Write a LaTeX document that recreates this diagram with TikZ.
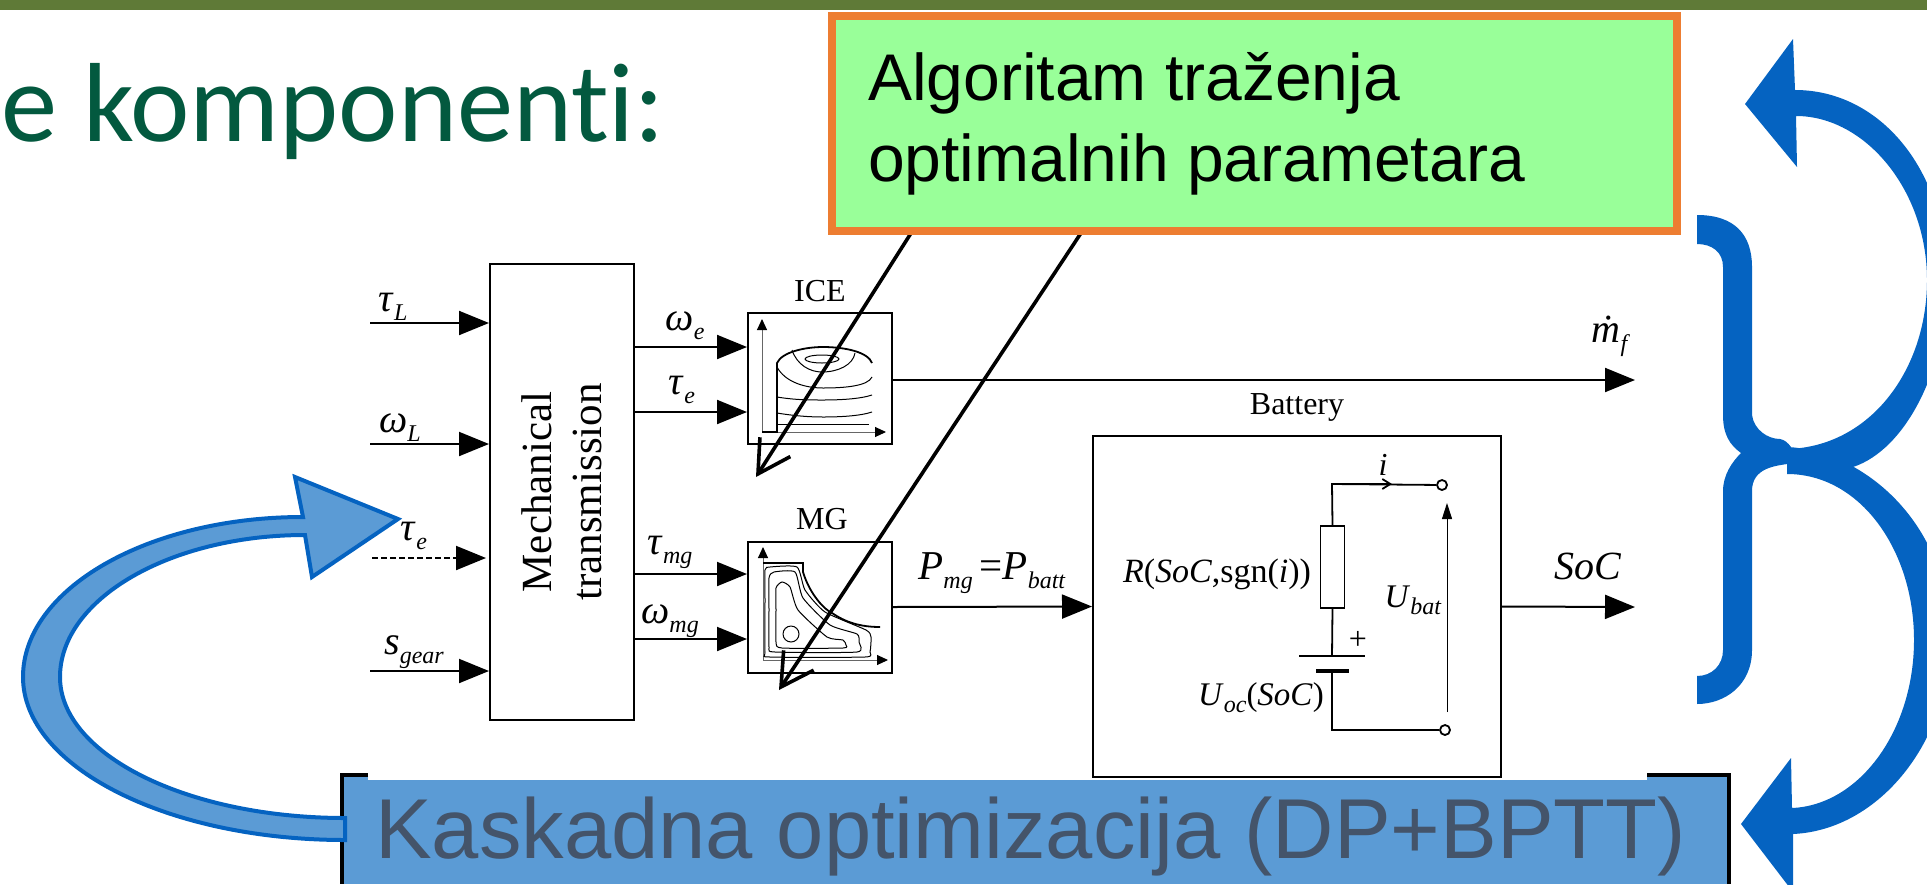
\documentclass[tikz,border=0pt]{standalone}
\usepackage{fontspec}
\setmainfont{Liberation Serif}
\newfontfamily\SansFont{Liberation Sans}
\newfontfamily\TitleFont{Carlito}
\usetikzlibrary{arrows.meta,calc}
\definecolor{BarClr}{HTML}{5F7A37}
\definecolor{TitleClr}{HTML}{03593F}
\definecolor{AlgoClr}{HTML}{99FF99}
\definecolor{AlgoEdgeClr}{HTML}{ED7D31}
\definecolor{CascadeClr}{HTML}{5B9BD5}
\definecolor{CascadeTxtClr}{HTML}{44546A}
\definecolor{FlowClr}{HTML}{0563C1}
\newcommand{\SymSub}[2]{\textit{#1}\raisebox{-.22em}{\fontsize{24}{24}\selectfont\textit{#2}}}
\tikzset{
  blockbox/.style={draw=black,line width=2pt,fill=white,inner sep=0pt},
  blocklbl/.style={font=\fontsize{32}{36}\selectfont,inner sep=0pt},
  symlbl/.style={font=\fontsize{40}{44}\selectfont,inner sep=0pt},
  sigline/.style={line width=2pt,-{Triangle[length=30pt,width=24pt]}},
  thinline/.style={line width=1pt},
  mapaxis/.style={line width=1pt,black!60,-{Triangle[length=11pt,width=10pt,black]}},
  mapline/.style={line width=1.8pt},
  wireline/.style={line width=1.8pt},
  pickline/.style={line width=3.6pt,-{Straight Barb[length=32pt,width=36pt,line width=3.6pt]}},
  terminal/.style={circle,draw=black,line width=1.8pt,fill=white,minimum size=10pt,inner sep=0pt},
}

\begin{document}
\begin{tikzpicture}[x=1pt,y=-1pt]
\useasboundingbox (0,0) rectangle (1927,884);
\clip (0,0) rectangle (1927,884);

\fill[BarClr] (0,0) rectangle (1927,10);
\node[anchor=base east,inner sep=0pt,text=TitleClr,font=\TitleFont\fontsize{112.5}{120}\selectfont] (title) at (665,141) {e komponent\kern0pt i:};

\node[blockbox,minimum width=144pt,minimum height=456pt] (mech) at (562,492) {};
\node[rotate=90,align=center,inner sep=0pt,font=\fontsize{43}{50}\selectfont] (mechlbl) at (562,492) {Mechanical\\transmission};
\node[blockbox,minimum width=144pt,minimum height=131pt] (ice) at (820,378) {};
\node[blockbox,minimum width=144pt,minimum height=131pt] (mg) at (820,607) {};
\node[blockbox,minimum width=408pt,minimum height=341pt] (batt) at (1297,606.5) {};

\node[blocklbl] (icelbl) at (820,291) {ICE};
\node[blocklbl] (mglbl) at (822,519) {MG};
\node[blocklbl] (battlbl) at (1297,407) {Battery};

\coordinate (tauLin) at (370,323);
\coordinate (omLin) at (370,444);
\coordinate (tauEin) at (372,558);
\coordinate (sgearin) at (370,671);
\coordinate (mfout) at (1635,380);
\coordinate (socout) at (1635,607);

\draw[sigline] (tauLin) -- (tauLin -| mech.west);
\draw[sigline] (omLin) -- (omLin -| mech.west);
\draw[sigline,dashed,dash pattern=on 6pt off 3pt] (tauEin) -- ($(tauEin -| mech.west)+(-3,0)$);
\draw[sigline] (sgearin) -- (sgearin -| mech.west);

\coordinate (omEout) at (mech.east |- 0,347);
\coordinate (tauEout) at (mech.east |- 0,412);
\coordinate (tauMout) at (mech.east |- 0,574);
\coordinate (omMout) at (mech.east |- 0,639);
\draw[sigline] (omEout) -- (omEout -| ice.west);
\draw[sigline] (tauEout) -- (tauEout -| ice.west);
\draw[sigline] (tauMout) -- (tauMout -| mg.west);
\draw[sigline] (omMout) -- (omMout -| mg.west);
\draw[sigline] (ice.east |- mfout) -- (mfout);
\draw[sigline] (mg.east) -- (batt.west);
\draw[sigline] (batt.east) -- (socout);

\node[symlbl] (tauLlbl) at (393,307) {\SymSub{τ}{L}};
\node[symlbl] (omLlbl) at (400,428) {\SymSub{ω}{L}};
\node[symlbl] (tauElbl) at (414,536) {\SymSub{τ}{e}};
\node[symlbl] (sgearlbl) at (414,652) {\SymSub{s}{gear}};
\node[symlbl] (omElbl) at (685,326) {\SymSub{ω}{e}};
\node[symlbl] (tauErlbl) at (682,390) {\SymSub{τ}{e}};
\node[symlbl] (tauMlbl) at (670,552) {\SymSub{τ}{mg}};
\node[symlbl] (omMlbl) at (670,621) {\SymSub{ω}{mg}};
\node[symlbl] (mflbl) at (1611,336) {\SymSub{ṁ}{f}};
\node[symlbl,font=\fontsize{41}{44}\selectfont] (powlbl) at (992,573) {\SymSub{P}{mg}\,=\SymSub{P}{batt}};
\node[symlbl] (soclbl) at (1588,566) {\textit{SoC}};

% ICE map
\draw[mapaxis] (762,432) -- (762,319);
\draw[mapaxis] (762,432) -- (886,432);
\draw[mapline] (762,432) -- (777,432) -- (777,363) .. controls (782,352) and (805,347) .. (823,347) .. controls (845,347) and (868,352) .. (872,363);
\draw[thinline] (822,359) ellipse (17pt and 4pt);
\draw[thinline] (792,350) .. controls (797,365) and (810,372) .. (822,372) .. controls (838,372) and (853,365) .. (855,353);
\draw[thinline] (777,367) .. controls (785,382) and (805,388) .. (823,388) .. controls (845,388) and (868,386) .. (872,377);
\draw[thinline] (777,397) .. controls (795,400) and (810,400) .. (823,400) .. controls (840,400) and (860,399) .. (872,395);
\draw[thinline] (777,413) .. controls (795,416) and (810,417) .. (823,417) .. controls (840,417) and (860,416) .. (872,412);
\draw[thinline] (777,424) -- (869,424);

% MG map
\draw[mapaxis] (763,660) -- (763,547);
\draw[mapaxis] (763,660) -- (888,660);
\draw[mapline] (763,563) -- (803,563) -- (803,572) .. controls (810,595) and (825,610) .. (832,613) .. controls (845,622) and (860,627) .. (880,627);
\draw[thinline] plot[smooth cycle,tension=.35] coordinates {(765,570) (770,567) (797,567) (805,590) (825,612) (866,630) (871,637) (870,652) (865,657) (770,657) (765,652) (765,600)};
\draw[thinline] plot[smooth cycle,tension=.35] coordinates {(769,578) (774,572) (795,572) (803,598) (830,625) (857,634) (859,642) (857,652) (775,652) (769,647) (769,610)};
\draw[thinline] plot[smooth cycle,tension=.35] coordinates {(776,588) (782,582) (790,587) (798,610) (827,637) (843,640) (846,645) (843,648) (782,648) (776,642) (776,610)};
\draw[thinline] (791,634) circle (8pt);

% battery circuit
\coordinate (topbend) at (1332,484);
\coordinate (lowbend) at (1332,730);
\node[terminal] (termtop) at (1442,485) {};
\node[terminal] (termlow) at (1445,730) {};
\node[draw=black,line width=1.8pt,fill=white,minimum width=24pt,minimum height=82pt,inner sep=0pt] (resist) at (1332.5,567) {};
\draw[wireline] (termtop) -- (topbend) -- (resist.north);
\draw[wireline,-{Straight Barb[length=8pt,width=10pt]}] (topbend) -- (1392,484);
\draw[wireline] (resist.south) -- (1332,656);
\draw[wireline] (termlow) -- (lowbend) -- (1332,671);
\draw[line width=1.8pt] (1299,656) -- (1365,656);
\draw[line width=4pt] (1316,671) -- (1349,671);
\draw[thinline,-{Triangle[length=16pt,width=10pt]}] (1447,712) -- (1447,503);
\node[symlbl,font=\fontsize{32}{36}\selectfont] (ilbl) at (1383,465) {\textit{i}};
\node[blocklbl] (pluslbl) at (1358,640) {+};
\node[blocklbl,font=\fontsize{34}{36}\selectfont] (rlbl) at (1217,574) {\textit{R}(\textit{SoC},sgn(\textit{i}))};
\node[blocklbl,font=\fontsize{33}{36}\selectfont] (uoclbl) at (1261,698) {\SymSub{U}{oc}(\textit{SoC})};
\node[blocklbl,font=\fontsize{33}{36}\selectfont] (ubatlbl) at (1413,600) {\SymSub{U}{bat}};

% cascade box
\node[fill=CascadeClr,minimum width=1383pt,minimum height=104pt,inner sep=0pt] (cascade) at (1035.5,832) {};
\fill[CascadeClr] (344,777) rectangle (368,781);
\fill[CascadeClr] (1647,777) rectangle (1727,781);
\draw[line width=4pt] (368,775) -- (342,775) -- (342,884);
\draw[line width=4pt] (1647,775) -- (1729,775) -- (1729,884);
\node[anchor=base west,inner sep=0pt,text=CascadeTxtClr,font=\SansFont\fontsize{85}{96}\selectfont] (cascadelbl) at (375,858) {Kaskadna optimizacija (DP+BPTT)};

% search box
\coordinate (pickA) at (913,230);
\coordinate (pickB) at (1083,230);
\coordinate (iceend) at (756,477);
\coordinate (mgend) at (779,690);
\draw[pickline] (pickA) -- (iceend);
\draw[pickline] (pickB) -- (mgend);
\node[draw=AlgoEdgeClr,line width=8pt,fill=AlgoClr,minimum width=845pt,minimum height=215pt,inner sep=0pt] (algo) at (1254.5,123) {};
\node[anchor=base west,align=left,inner sep=0pt,font=\SansFont\fontsize{66}{81}\selectfont] (algolbl) at (868,181) {Algoritam traženja\\optimalnih parametara};

% loop back arrow
\draw[FlowClr,line width=4pt,fill=CascadeClr,line join=miter]
  (345,840) .. controls (168,840) and (23,767) .. (23,677)
  .. controls (23,589) and (148,517) .. (303,517)
  -- (295,477) -- (398,519) -- (312,577) -- (305,535)
  .. controls (170,535) and (60,599) .. (60,677)
  .. controls (60,755) and (188,818) .. (345,818) -- cycle;

% brace and right arrows
\fill[FlowClr] (1697,215) .. controls (1735,215) and (1752,235) .. (1752,267) -- (1752,415)
  .. controls (1754,430) and (1768,439) .. (1780,439) .. controls (1785,440) and (1788,443) .. (1791,447)
  -- (1787,464) .. controls (1775,466) and (1752,468) .. (1752,491) -- (1752,650)
  .. controls (1752,685) and (1725,704) .. (1697,704) -- (1697,676)
  .. controls (1712,676) and (1723,665) .. (1723,650) -- (1723,491)
  .. controls (1723,475) and (1732,462) .. (1741,453) .. controls (1730,445) and (1723,435) .. (1723,415)
  -- (1723,267) .. controls (1723,252) and (1712,244) .. (1697,244) -- cycle;
\fill[FlowClr] (1787,467) -- (1853,467) .. controls (1905,450) and (1947,370) .. (1947,280)
  .. controls (1947,170) and (1880,90) .. (1795,90)
  -- (1793,39) -- (1745,104) -- (1797,167) -- (1796,116)
  .. controls (1865,116) and (1927,190) .. (1927,280)
  .. controls (1927,370) and (1870,447) .. (1787,449) -- cycle;
\fill[FlowClr] (1787,447) .. controls (1860,450) and (1950,520) .. (1950,640)
  .. controls (1950,740) and (1880,830) .. (1793,834)
  -- (1793,892) -- (1741,824) -- (1791,758) -- (1792,808)
  .. controls (1860,805) and (1914,730) .. (1914,640)
  .. controls (1914,550) and (1860,474) .. (1787,474) -- cycle;
\end{tikzpicture}
\end{document}
